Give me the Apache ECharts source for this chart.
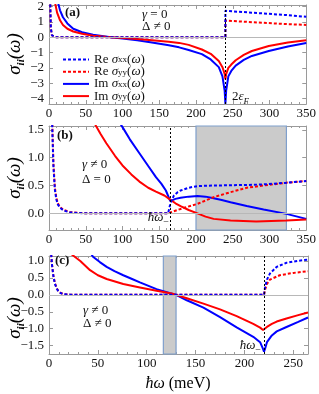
<!DOCTYPE html>
<html><head><meta charset="utf-8">
<script src="https://cdn.jsdelivr.net/npm/echarts@6/dist/echarts.min.js"></script>
<style>html,body{margin:0;padding:0;background:#fff}#c{width:319px;height:394px}</style>
</head><body><div id="c"></div>
<script>
// ---------- Panel (a): gamma = 0, Delta != 0 ----------
const aReXX = [[0.5,8],[1.5,2.5],[2.5,0.6],[4,0.12],[6,0.03],[10,0],[240,0],[240,1.72],[245,1.7],[276,1.6],[321,1.45],[350,1.33]];
const aReYY = [[0.5,8],[1.5,2.5],[2.5,0.6],[4,0.12],[6,0.03],[10,0],[240,0],[240,1.08],[276,0.98],[321,0.86],[350,0.8]];
const aImXX = [[9,3.0],[12,2.3],[15,1.75],[19,1.3],[25,0.9],[33,0.55],[45,0.32],[60,0.16],[72,0.08],[84,0],[100,-0.09],[120,-0.2],[140,-0.34],[163,-0.53],[177,-0.66],[190,-0.83],[208,-1.1],[220,-1.45],[231,-1.95],[236,-2.55],[239,-3.5],[240,-4.35],[241,-3.5],[244,-2.55],[248,-2.2],[254,-1.85],[265,-1.48],[276,-1.22],[299,-0.9],[325,-0.6],[350,-0.38]];
const aImYY = [[6,3.0],[8,2.3],[11,1.6],[15,1.1],[19,0.8],[25,0.55],[33,0.37],[45,0.22],[60,0.1],[84,0],[100,-0.05],[120,-0.12],[140,-0.2],[163,-0.3],[177,-0.37],[190,-0.5],[208,-0.8],[220,-1.08],[231,-1.55],[236,-1.95],[239,-2.4],[240,-2.75],[241,-2.4],[244,-2.0],[248,-1.78],[254,-1.5],[265,-1.15],[276,-0.9],[299,-0.57],[325,-0.35],[350,-0.2]];
const aEdge = 240;           // 2 eps_F
const aYTicks = [-4,-3,-2,-1,0,1,2];

// ---------- Panel (b): gamma != 0, Delta = 0 ----------
const bReXX = [[3,2.5],[4.5,1.5],[6,0.85],[8,0.42],[10,0.25],[12,0.16],[15,0.1],[20,0.05],[28,0.02],[40,0.005],[55,0],[162,0],[163.5,0.08],[165,0.17],[167,0.24],[170,0.32],[175,0.38],[179,0.41],[190,0.46],[202,0.49],[225,0.5],[247,0.505],[270,0.51],[292,0.52],[323,0.55],[350,0.58]];
const bReYY = [[3,2.6],[4.7,1.5],[6,0.9],[8,0.46],[10,0.28],[12,0.18],[15,0.11],[20,0.06],[28,0.025],[40,0.007],[55,0],[163,0],[166,0.02],[184,0.1],[202,0.17],[224,0.29],[247,0.38],[269,0.46],[292,0.5],[323,0.55],[350,0.58]];
const bImXX = [[95,1.65],[100,1.55],[110,1.33],[123,1.08],[135,0.85],[145.5,0.65],[153,0.53],[159,0.41],[163.5,0.27],[165,0.22],[166,0.22],[172,0.26],[179,0.28],[190,0.3],[202,0.31],[213,0.3],[224,0.27],[235,0.24],[247,0.2],[269,0.13],[292,0.07],[323,-0.01],[350,-0.1]];
const bImYY = [[62,1.62],[64,1.57],[70,1.43],[78,1.26],[90,1.03],[100,0.86],[112,0.7],[123,0.57],[135,0.46],[145.5,0.39],[157,0.32],[163.5,0.26],[166,0.23],[172,0.18],[179,0.13],[190,0.06],[202,0.0],[213,-0.06],[224,-0.1],[247,-0.13],[282,-0.145],[323,-0.13],[350,-0.11]];
const bEdge = 165;           // hbar omega_-
const bBand = [200, 323];
const bYTicks = [0,0.5,1,1.5];

// ---------- Panel (c): gamma != 0, Delta != 0 ----------
const cReXX = [[1.5,1.5],[3,0.9],[4.5,0.55],[6,0.33],[8,0.18],[9.5,0.11],[12,0.05],[15,0.02],[22,0.005],[30,0],[220,0],[221,0.22],[223,0.45],[226,0.63],[233,0.83],[243,0.95],[255,1.01],[265,1.04]];
const cReYY = [[1.5,1.5],[3,0.92],[4.5,0.57],[6,0.35],[8,0.19],[9.5,0.12],[12,0.055],[15,0.022],[22,0.006],[30,0],[220,0],[221,0.15],[223,0.32],[226,0.45],[236,0.58],[250,0.65],[265,0.7]];
const cImXX = [[40,1.35],[45,1.13],[52,0.97],[59,0.83],[67,0.7],[76,0.58],[85,0.47],[93,0.37],[110,0.17],[124,0.05],[130,0.0],[141,-0.16],[158,-0.38],[175,-0.66],[192,-0.96],[209,-1.24],[216,-1.4],[219,-1.6],[220,-1.68],[221,-1.6],[223,-1.4],[228,-1.2],[233,-1.08],[243,-0.95],[255,-0.8],[265,-0.67]];
const cImYY = [[23,1.2],[32,1.0],[42,0.73],[50,0.58],[59,0.47],[76,0.32],[93,0.22],[110,0.12],[127,0.03],[130,0.0],[141,-0.1],[158,-0.26],[175,-0.43],[192,-0.63],[209,-0.86],[216,-0.97],[219,-1.04],[220,-1.08],[221,-1.03],[223,-0.95],[228,-0.86],[233,-0.79],[243,-0.7],[255,-0.6],[265,-0.52]];
const cEdge = 220;
const cBand = [117, 130];
const cYTicks = [-1.5,-1,-0.5,0,0.5,1];

const names = ['Re σxx','Re σyy','Im σxx','Im σyy'];
const BLUE = '#0000ff', RED = '#ff0000';
const F = 'Liberation Serif';
const AX = '#9a9a9a';

function fmt1(v){ return (v<0?'\u2212':'') + Math.abs(v).toFixed(1); }
function fmt0(v){ return (v<0?'\u2212':'') + Math.abs(v); }

function xAx(g, max, show, showMax){
  return {type:'value', gridIndex:g, min:0, max:max, interval:50, position: show?'bottom':'top',
    axisLine:{show:true, onZero:false, lineStyle:{color:AX, width:1}},
    axisTick:{show:true, inside:true, length:4, lineStyle:{color:AX}},
    minorTick:{show:true, splitNumber:5, length:2, lineStyle:{color:AX}},
    splitLine:{show:false},
    axisLabel:{show:show, margin:3, color:'#111', fontFamily:F, fontSize:13, showMaxLabel:showMax, showMinLabel:true}};
}
function yAx(g, min, max, ticks, f, show){
  return {type:'value', gridIndex:g, min:min, max:max, position: show?'left':'right',
    axisLine:{show:true, onZero:false, lineStyle:{color:AX, width:1}},
    axisTick:{show:true, inside:true, length:4, customValues:ticks, lineStyle:{color:AX}},
    splitLine:{show:false},
    axisLabel:{show:show, customValues:ticks, formatter:f, margin:5, color:'#111', fontFamily:F, fontSize:13}};
}
function curve(name, data, color, dashed, i){
  return {type:'line', name:name, data:data, xAxisIndex:2*i, yAxisIndex:2*i, showSymbol:false, symbol:'none',
    lineStyle:{color:color, width:2, type: dashed?[3,2]:'solid'}, itemStyle:{color:color}, z:3, silent:true};
}
function bg(i, edge, band){
  const s = {type:'line', data:[], xAxisIndex:2*i, yAxisIndex:2*i, z:1, silent:true,
    markLine:{silent:true, symbol:['none','none'], label:{show:false}, animation:false,
      data:[{yAxis:0, lineStyle:{color:'#b8b8b8', width:1, type:'solid'}},
            {xAxis:edge, lineStyle:{color:'#000', width:1, type:[2,2]}}]}};
  if(band){
    s.markArea = {silent:true, itemStyle:{color:'#cbcbcb', borderColor:'#7f9fcc', borderWidth:1.2},
      data:[[{xAxis:band[0]},{xAxis:band[1]}]]};
  }
  return s;
}

const rich = {
  t:{fontFamily:F, fontSize:13, color:'#111', lineHeight:18, verticalAlign:'middle'},
  i:{fontFamily:F, fontSize:13, fontStyle:'italic', color:'#111', lineHeight:18, verticalAlign:'middle'},
  s:{fontFamily:F, fontSize:10, color:'#111', lineHeight:18, verticalAlign:'bottom'},
  si:{fontFamily:F, fontSize:9, fontStyle:'italic', color:'#111', lineHeight:18, verticalAlign:'bottom'}
};
const legRich = {
  t:{fontFamily:F, fontSize:13, color:'#111', lineHeight:8, verticalAlign:'middle'},
  i:{fontFamily:F, fontSize:13, fontStyle:'italic', color:'#111', lineHeight:8, verticalAlign:'middle'},
  s:{fontFamily:F, fontSize:9, color:'#111', lineHeight:10, verticalAlign:'bottom'}
};
const legendText = {
  'Re σxx':'{t|Re }{i|σ}{s|xx}{t|(}{i|ω}{t|)}',
  'Re σyy':'{t|Re }{i|σ}{s|yy}{t|(}{i|ω}{t|)}',
  'Im σxx':'{t|Im }{i|σ}{s|xx}{t|(}{i|ω}{t|)}',
  'Im σyy':'{t|Im }{i|σ}{s|yy}{t|(}{i|ω}{t|)}'
};

function txt(x, y, text, opt){
  opt = opt || {};
  return {type:'text', x:x, y:y, rotation:opt.rot||0, z:10, silent:true,
    style:{text:text, rich:rich, fontFamily:F, fontSize:opt.size||13, fontWeight:opt.bold?'bold':'normal',
      fill:'#111', align:opt.align||'left', verticalAlign:'middle'}};
}
const titleRich = {
  s:{fontFamily:F, fontSize:19, fontStyle:'italic', color:'#111', lineHeight:22, verticalAlign:'middle'},
  b:{fontFamily:F, fontSize:11, fontStyle:'italic', fontWeight:'bold', color:'#111', lineHeight:24, verticalAlign:'bottom'}
};
function ytitle(y){
  return {type:'text', x:15, y:y, rotation:Math.PI/2, z:10, silent:true,
    style:{text:'{s|σ}{b|ii}{s|(ω)}', rich:titleRich, align:'center', verticalAlign:'middle'}};
}

const chart = echarts.init(document.getElementById('c'), null, {renderer:'canvas'});
chart.setOption({
  animation:false,
  backgroundColor:'#fff',
  grid:[
    {left:49, top:3, width:259, height:101},
    {left:49, top:126, width:259, height:104},
    {left:49, top:256, width:259, height:98}
  ],
  xAxis:[xAx(0,350,true,true), xAx(0,350,false,true), xAx(1,350,true,true), xAx(1,350,false,true), xAx(2,265,true,false), xAx(2,265,false,false)],
  yAxis:[yAx(0,-4.35,2.1,aYTicks,fmt0,true), yAx(0,-4.35,2.1,aYTicks,fmt0,false),
         yAx(1,-0.3,1.57,bYTicks,fmt1,true), yAx(1,-0.3,1.57,bYTicks,fmt1,false),
         yAx(2,-1.75,1.15,cYTicks,fmt1,true), yAx(2,-1.75,1.15,cYTicks,fmt1,false)],
  legend:{data:names, orient:'vertical', left:62, top:53, itemWidth:26, itemHeight:10, itemGap:-0.8, padding:0,
    selectedMode:false, formatter:function(n){return legendText[n];},
    itemStyle:{opacity:0},
    textStyle:{fontFamily:F, fontSize:13, color:'#111', rich:legRich}},
  series:[
    bg(0, aEdge, null),
    curve('Im σxx', aImXX, BLUE, false, 0), curve('Im σyy', aImYY, RED, false, 0),
    curve('Re σyy', aReYY, RED, true, 0), curve('Re σxx', aReXX, BLUE, true, 0),
    bg(1, bEdge, bBand),
    curve('Im σxx', bImXX, BLUE, false, 1), curve('Im σyy', bImYY, RED, false, 1),
    curve('Re σyy', bReYY, RED, true, 1), curve('Re σxx', bReXX, BLUE, true, 1),
    bg(2, cEdge, cBand),
    curve('Im σxx', cImXX, BLUE, false, 2), curve('Im σyy', cImYY, RED, false, 2),
    curve('Re σyy', cReYY, RED, true, 2), curve('Re σxx', cReXX, BLUE, true, 2)
  ],
  graphic:[
    ytitle(54), ytitle(178), ytitle(318),
    txt(65, 13, '(a)', {bold:true}),
    txt(142, 15, '{i|γ}{t| = 0}'),
    txt(142, 27, '{t|Δ ≠ 0}'),
    txt(232, 97, '{t|2}{i|ε}{si|F}'),
    txt(57, 136, '(b)', {bold:true}),
    txt(82, 165, '{i|γ}{t| ≠ 0}'),
    txt(82, 180, '{t|Δ = 0}'),
    txt(169, 218, '{i|ħω}{s|−}', {align:'right'}),
    txt(55, 261, '(c)', {bold:true}),
    txt(83, 311, '{i|γ}{t| ≠ 0}'),
    txt(83, 324, '{t|Δ ≠ 0}'),
    txt(261, 346, '{i|ħω}{s|−}', {align:'right'}),
    {type:'text', x:178, y:384, z:10, silent:true,
      style:{text:'{i|ħω}{t| (meV)}', align:'center', verticalAlign:'middle',
        rich:{i:{fontFamily:F, fontSize:16, fontStyle:'italic', color:'#111'}, t:{fontFamily:F, fontSize:16, color:'#111'}}}}
  ]
});
</script></body></html>
